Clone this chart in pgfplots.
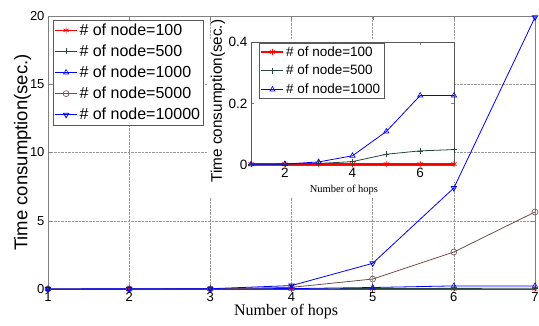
\documentclass[border=0pt]{standalone}
\usepackage{fontspec}
\setmainfont{Liberation Sans}
\newfontfamily\seriffont{Liberation Serif}
\usepackage{pgfplots}
\pgfplotsset{compat=1.18}
\definecolor{dslate}{RGB}{40,72,62}
\definecolor{brn}{RGB}{115,75,75}
\begin{document}
\begin{tikzpicture}
\useasboundingbox (-48pt,-37pt) rectangle (491pt,289pt);
\begin{axis}[
  at={(0pt,0pt)}, anchor=south west, scale only axis,
  width=487pt, height=273pt,
  xmin=1, xmax=7, ymin=0, ymax=20,
  xtick={1,...,7}, ytick={0,5,10,15,20},
  /pgf/number format/assume math mode=true,
  tick label style={font=\fontsize{13}{15}\selectfont},
  grid=major, grid style={densely dotted, gray!80},
  axis line style={gray}, tick style={gray}, tick align=inside, major tick length=4pt,
  xlabel={\seriffont Number of hops},
  xlabel style={at={(axis description cs:0.489,-0.084)}, anchor=center, font=\fontsize{16}{18}\selectfont},
  ylabel={Time consumption(sec.)},
  ylabel style={at={(axis description cs:-0.052,0.5)}, anchor=center, font=\fontsize{18.5}{20}\selectfont},
  clip=false,
  legend style={at={(axis description cs:0.0103,0.985)}, anchor=north west, draw=gray!70!black,
    font=\fontsize{16}{18}\selectfont, inner sep=1.5pt, row sep=4pt, cells={anchor=west}},
  legend image code/.code={\draw[mark repeat=2,mark phase=2,#1] plot coordinates {(0pt,0pt)(11pt,0pt)(22pt,0pt)};},
  every axis plot/.append style={line width=0.8pt, mark size=3pt, mark options={solid, line width=0.6pt}},
]
\addplot[red, mark=asterisk] coordinates {(1,0.003)(2,0.003)(3,0.003)(4,0.003)(5,0.003)(6,0.003)(7,0.003)};
\addlegendentry{\# of node=100}
\addplot[dslate, mark=+] coordinates {(1,0.002)(2,0.003)(3,0.005)(4,0.011)(5,0.035)(6,0.046)(7,0.05)};
\addlegendentry{\# of node=500}
\addplot[blue, mark=triangle] coordinates {(1,0.002)(2,0.003)(3,0.01)(4,0.03)(5,0.109)(6,0.226)(7,0.226)};
\addlegendentry{\# of node=1000}
\addplot[brn, mark=o] coordinates {(1,0.003)(2,0.005)(3,0.01)(4,0.12)(5,0.73)(6,2.71)(7,5.64)};
\addlegendentry{\# of node=5000}
\addplot[blue, mark=triangle, mark options={rotate=180}] coordinates {(1,0.005)(2,0.01)(3,0.02)(4,0.25)(5,1.88)(6,7.4)(7,19.9)};
\addlegendentry{\# of node=10000}
\end{axis}
\fill[white] (160pt,107pt) rectangle (407pt,250pt);
\fill[white] (160pt,92pt) rectangle (390pt,108pt);
\begin{axis}[
  at={(203pt,124pt)}, anchor=south west, scale only axis,
  width=203pt, height=123pt,
  xmin=1, xmax=7, ymin=0, ymax=0.4,
  xtick={2,4,6}, ytick={0,0.2,0.4},
  /pgf/number format/assume math mode=true,
  tick label style={font=\fontsize{13.5}{15}\selectfont},
  yticklabel style={/pgf/number format/fixed},
  axis line style={gray!70!black}, tick style={gray}, tick align=inside, major tick length=3pt,
  xlabel={\seriffont Number of hops},
  xlabel style={at={(axis description cs:0.458,-0.203)}, anchor=center, font=\fontsize{10.5}{12}\selectfont},
  ylabel={Time consumption(sec.)},
  ylabel style={at={(axis description cs:-0.163,0.52)}, anchor=center, font=\fontsize{15.3}{17}\selectfont},
  clip=false,
  legend style={at={(axis description cs:0.04,0.995)}, anchor=north west, draw=gray!70!black,
    font=\fontsize{13.5}{15}\selectfont, inner sep=1.5pt, row sep=3.5pt, cells={anchor=west}},
  legend image code/.code={\draw[mark repeat=2,mark phase=2,#1] plot coordinates {(0pt,0pt)(11pt,0pt)(22pt,0pt)};},
  every axis plot/.append style={line width=0.8pt, mark size=3pt, mark options={solid, line width=0.6pt}},
]
\addplot[red, mark=asterisk, line width=1.2pt, mark options={line width=0.8pt}] coordinates {(1,0.003)(2,0.003)(3,0.003)(4,0.003)(5,0.003)(6,0.003)(7,0.003)};
\addlegendentry{\# of node=100}
\addplot[dslate, mark=+] coordinates {(1,0.002)(2,0.003)(3,0.005)(4,0.011)(5,0.035)(6,0.046)(7,0.05)};
\addlegendentry{\# of node=500}
\addplot[blue, mark=triangle] coordinates {(1,0.002)(2,0.003)(3,0.01)(4,0.03)(5,0.109)(6,0.226)(7,0.226)};
\addlegendentry{\# of node=1000}
\end{axis}
\end{tikzpicture}
\end{document}
